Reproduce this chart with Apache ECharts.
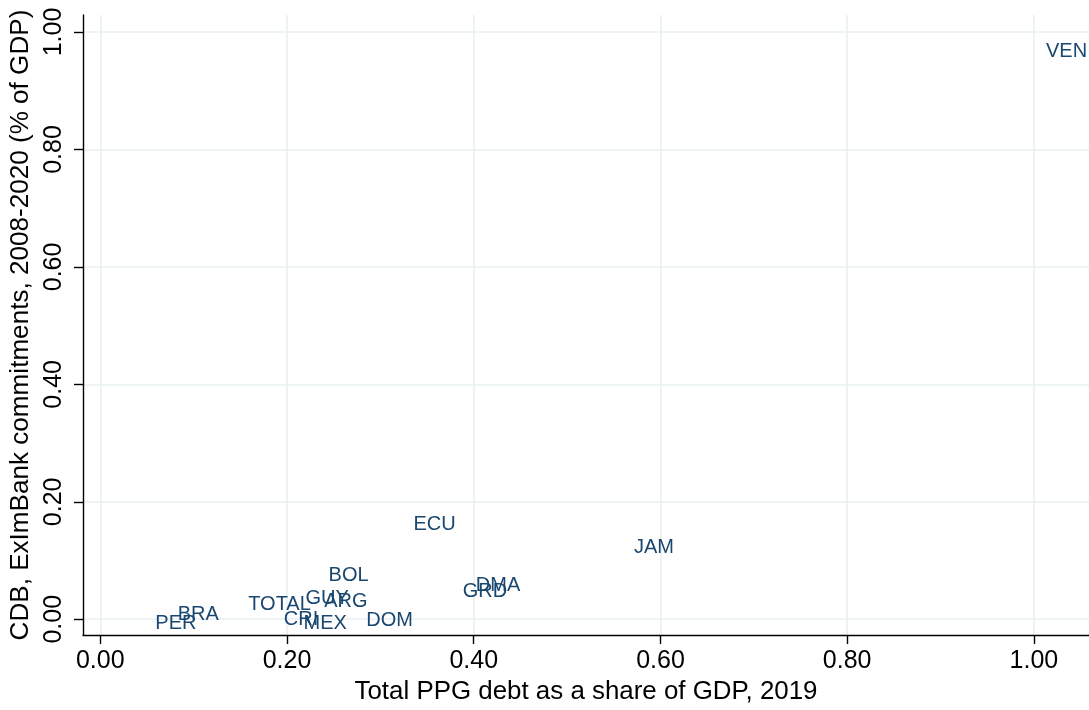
<!DOCTYPE html>
<html><head><meta charset="utf-8">
<script src="https://cdn.jsdelivr.net/npm/echarts@6/dist/echarts.min.js"></script>
<style>html,body{margin:0;padding:0;background:#fff}#c{width:1089px;height:710px}</style>
</head><body><div id="c"></div>
<script>
const countries   = ['VEN','JAM','ECU','DMA','GRD','BOL','TOTAL','GUY','ARG','CRI','MEX','DOM','BRA','PER'];
const debtShare   = [1.035,0.593,0.358,0.426,0.412,0.266,0.192,0.243,0.263,0.215,0.241,0.310,0.105,0.081];
const chinaCommit = [0.973,0.129,0.168,0.064,0.053,0.081,0.031,0.041,0.036,0.005,-0.002,0.003,0.014,-0.002];
const xTicks = [0,0.2,0.4,0.6,0.8,1.0];
const yTicks = [0,0.2,0.4,0.6,0.8,1.0];

const FONT = '"Liberation Sans", Arial, Helvetica, sans-serif';
const points = countries.map((c,i)=>({name:c, value:[debtShare[i], chinaCommit[i]]}));

const chart = echarts.init(document.getElementById('c'), null, {renderer:'canvas'});
chart.setOption({
  backgroundColor:'#fff',
  animation:false,
  grid:{left:83, right:0, top:15, bottom:72, containLabel:false},
  xAxis:{
    type:'value', min:-0.0185, max:1.059,
    name:'Total PPG debt as a share of GDP, 2019',
    nameLocation:'middle', nameGap:41,
    nameTextStyle:{fontFamily:FONT, fontSize:25.9, color:'#000'},
    axisLine:{show:true, onZero:false, lineStyle:{color:'#000', width:1.4}},
    axisTick:{show:true, customValues:xTicks, length:9, lineStyle:{color:'#000', width:1.4}},
    axisLabel:{customValues:xTicks, formatter:v=>Number(v).toFixed(2), fontFamily:FONT, fontSize:25, color:'#000', margin:14},
    splitLine:{show:true, lineStyle:{color:'#e8f0f2', width:1.6}}
  },
  yAxis:{
    type:'value', min:-0.027, max:1.029,
    name:'CDB, ExImBank commitments, 2008-2020 (% of GDP)',
    nameLocation:'middle', nameGap:38,
    nameTextStyle:{fontFamily:FONT, fontSize:26.1, color:'#000'},
    axisLine:{show:true, onZero:false, lineStyle:{color:'#000', width:1.4}},
    axisTick:{show:true, customValues:yTicks, length:9, lineStyle:{color:'#000', width:1.4}},
    axisLabel:{customValues:yTicks, rotate:90, formatter:v=>Number(v).toFixed(2), fontFamily:FONT, fontSize:25, color:'#000', margin:16},
    splitLine:{show:true, lineStyle:{color:'#e8f0f2', width:1.6}}
  },
  series:[{
    type:'scatter',
    data:points,
    symbolSize:1,
    itemStyle:{color:'rgba(0,0,0,0)'},
    label:{show:true, position:'inside', offset:[0,3.5], formatter:p=>p.name, fontFamily:FONT, fontSize:20, color:'#1a476f', textBorderWidth:0, opacity:1},
    emphasis:{disabled:true}
  }]
});
</script></body></html>
